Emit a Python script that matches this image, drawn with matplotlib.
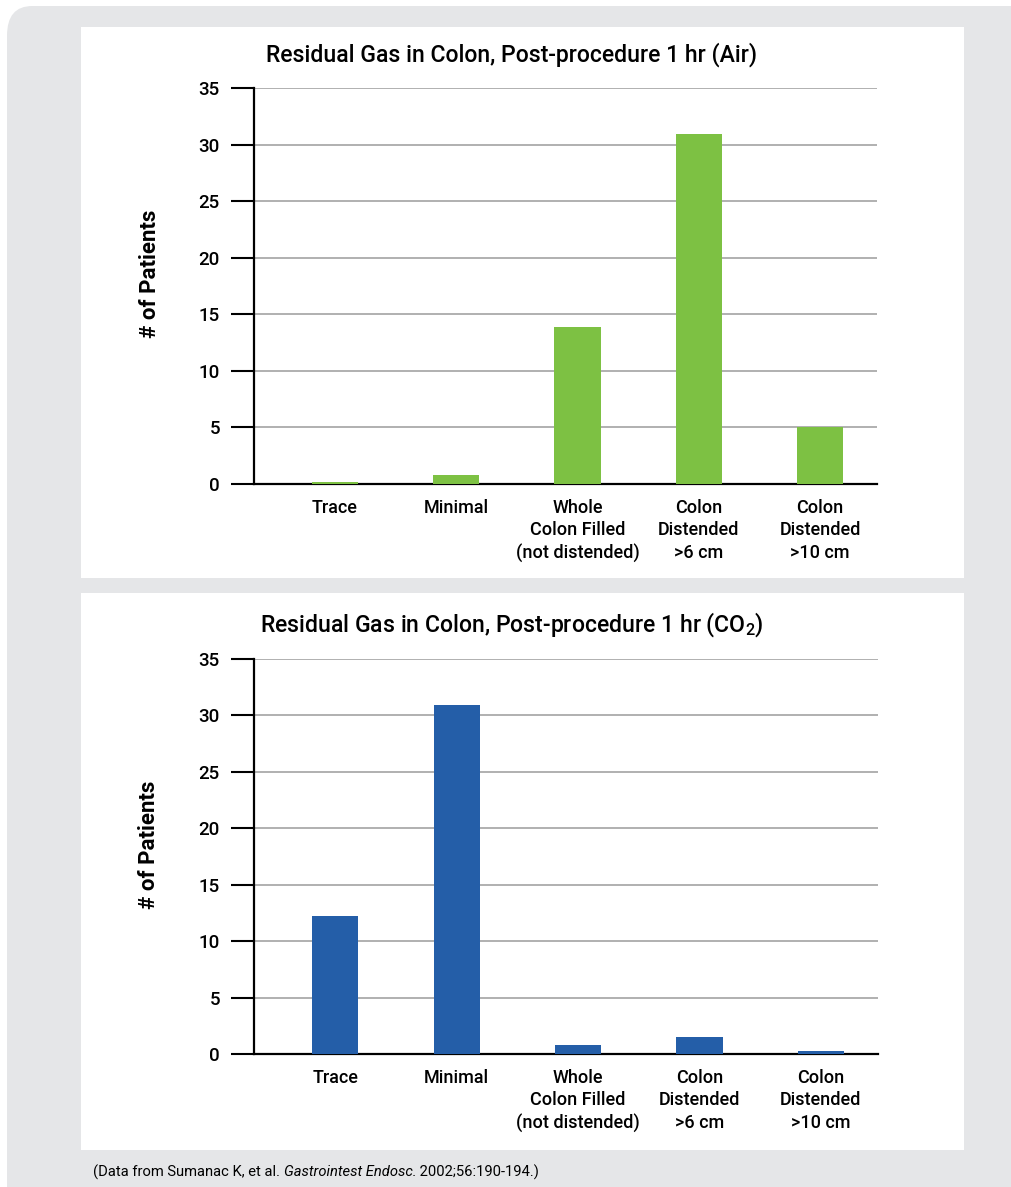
import matplotlib
import matplotlib.pyplot as plt
from matplotlib.patches import FancyBboxPatch, Rectangle

matplotlib.use('Agg')

FONT = ['Roboto', 'DejaVu Sans']
plt.rcParams['font.family'] = FONT
plt.rcParams['mathtext.fontset'] = 'custom'
plt.rcParams['mathtext.rm'] = 'Roboto:medium'

categories = ['Trace', 'Minimal', 'Whole\nColon Filled\n(not distended)',
              'Colon\nDistended\n>6 cm', 'Colon\nDistended\n>10 cm']
air_values = [0.2, 0.8, 13.9, 30.9, 5.0]
co2_values = [12.2, 30.9, 0.8, 1.5, 0.3]
y_ticks = [0, 5, 10, 15, 20, 25, 30, 35]

air_title = 'Residual Gas in Colon, Post-procedure 1 hr (Air)'
co2_title = r'Residual Gas in Colon, Post-procedure 1 hr (CO$_2$)'

GREEN = '#7dc143'
BLUE = '#245ea8'
PANEL_GRAY = '#e5e6e8'

W, H = 1011, 1187
fig = plt.figure(figsize=(W / 100, H / 100), dpi=100)
fig.patch.set_facecolor('white')


def px_rect(x0, y0, x1, y1):
    # pixel box (top-left origin) -> figure fraction
    return [x0 / W, 1 - y1 / H, (x1 - x0) / W, (y1 - y0) / H]


# gray rounded background panel
bg = FancyBboxPatch((7 / W, -0.05), 1.2, 1 - 6 / H + 0.05,
                    boxstyle='round,pad=0,rounding_size=0.025',
                    transform=fig.transFigure, facecolor=PANEL_GRAY,
                    edgecolor='none', zorder=0)
fig.patches.append(bg)
for box in [(81, 27, 964, 578), (81, 593, 964, 1150)]:
    r = px_rect(*box)
    fig.patches.append(Rectangle((r[0], r[1]), r[2], r[3],
                                 transform=fig.transFigure,
                                 facecolor='white', edgecolor='none', zorder=1))


def draw_chart(rect, values, color, title, title_y, label_y):
    ax = fig.add_axes(px_rect(*rect))
    ax.set_zorder(2)
    ax.patch.set_alpha(0)
    x = list(range(len(categories)))
    ax.bar(x, values, width=0.38, color=color, edgecolor='none', zorder=3)
    ax.set_xlim(-0.668, 4.47)
    ax.set_ylim(0, 35)
    ax.set_yticks(y_ticks)
    ax.set_xticks(x)
    ax.set_xticklabels(categories, fontsize=13, linespacing=1.3,
                       fontweight='medium')
    ax.tick_params(axis='x', length=0, pad=11)
    ax.tick_params(axis='y', length=16.5, width=1.5, direction='out',
                   labelsize=13.5, pad=8)
    for lbl in ax.get_yticklabels():
        lbl.set_fontweight('medium')
    ax.yaxis.grid(True, color='#a3a3a3', linewidth=1.2)
    ax.set_axisbelow(True)
    for side in ['top', 'right']:
        ax.spines[side].set_visible(False)
    for side in ['left', 'bottom']:
        ax.spines[side].set_linewidth(1.6)
    ax.set_ylabel('# of Patients', fontsize=16, fontweight='bold')
    ax.yaxis.set_label_coords(-0.15, label_y)
    fig.text(512 / W, 1 - title_y / H, title, ha='center', va='center',
             fontsize=16.6, fontweight='medium')
    return ax


draw_chart((254, 88, 877, 484), air_values, GREEN, air_title, 55, 0.53)
draw_chart((254, 659, 878, 1054), co2_values, BLUE, co2_title, 625, 0.529)

# footnote with italic journal name
parts = [('(Data from Sumanac K, et al. ', 'normal'),
         ('Gastrointest Endosc.', 'italic'),
         (' 2002;56:190-194.)', 'normal')]
renderer = fig.canvas.get_renderer()
x_px = 93
for txt, style in parts:
    t = fig.text(x_px / W, 1 - 1172 / H, txt, ha='left', va='center',
                 fontsize=10.6, style=style)
    x_px += t.get_window_extent(renderer).width

fig.savefig('out.png', dpi=100, facecolor=fig.get_facecolor())
